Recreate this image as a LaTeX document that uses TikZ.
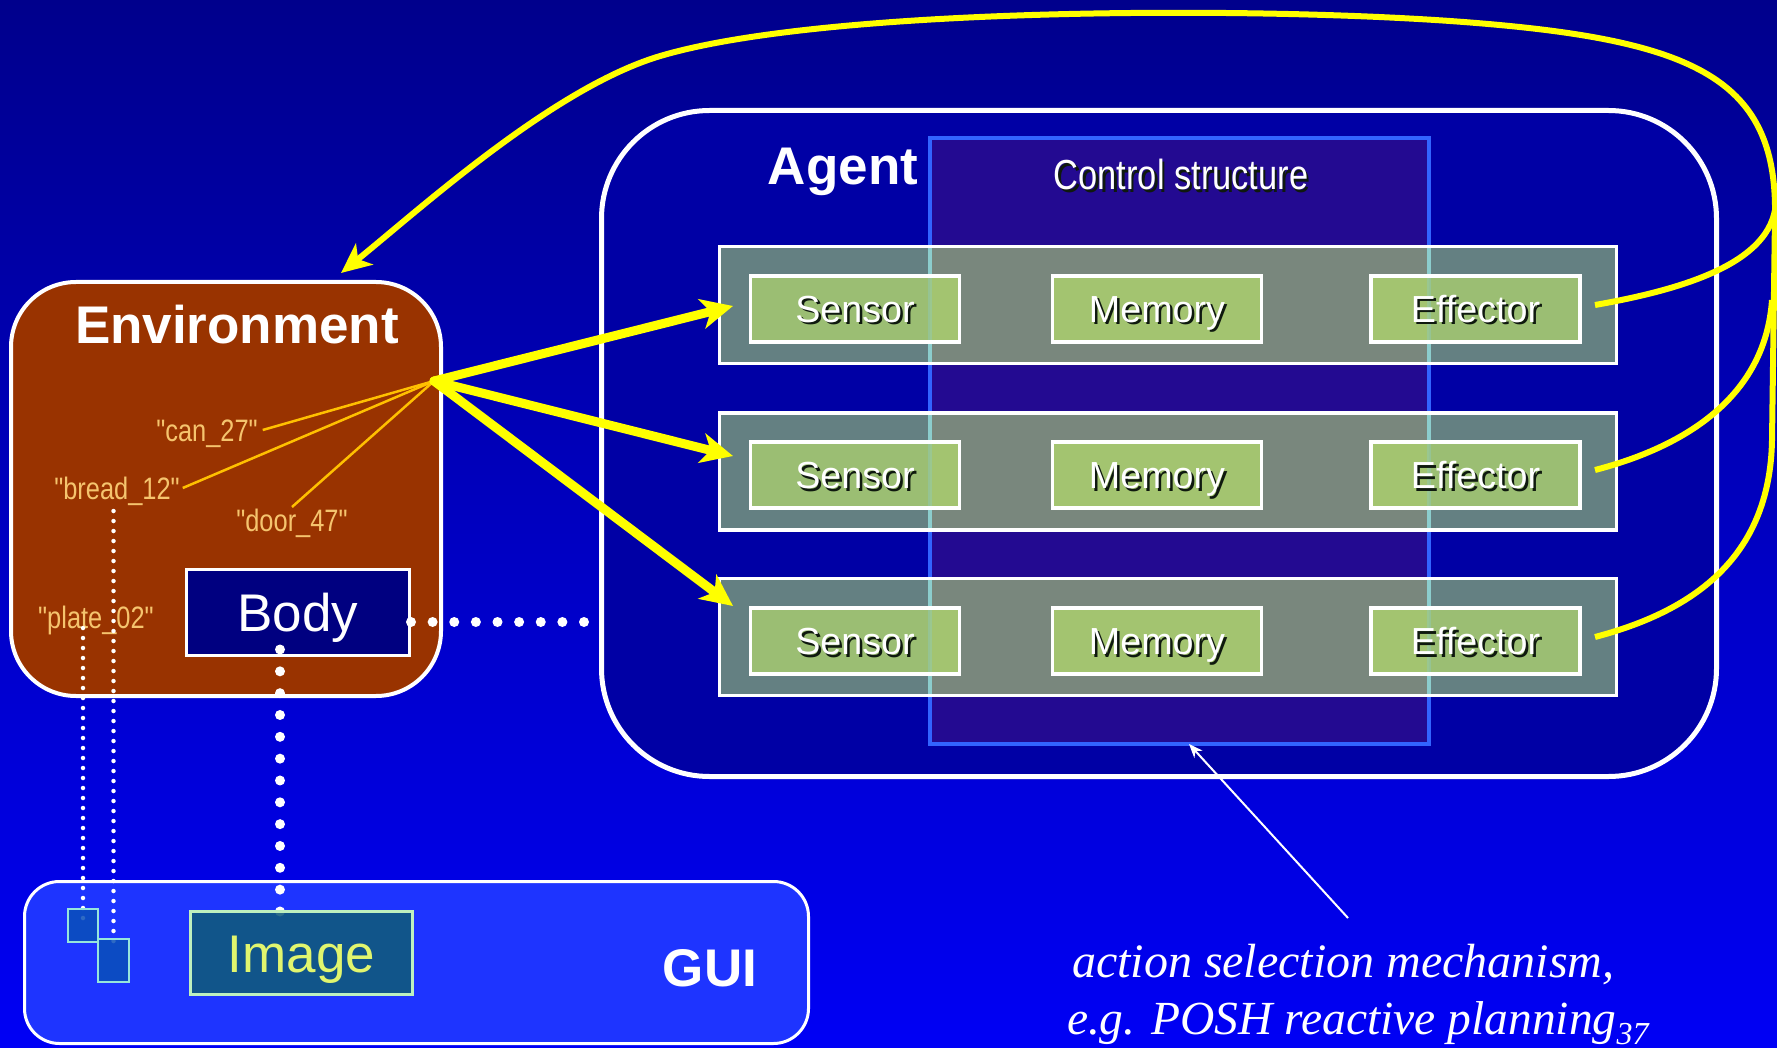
\documentclass[tikz,border=0pt]{standalone}
\usepackage{fontspec}
\setmainfont{Liberation Sans}
\newfontfamily\narrowfont{Liberation Sans}[FakeStretch=0.82]
\newfontfamily\timesfont{Liberation Serif}
\usetikzlibrary{arrows.meta}
\definecolor{bgtop}{RGB}{0,0,140}
\definecolor{bgbot}{RGB}{0,0,245}
\definecolor{agentc}{RGB}{0,0,165}
\definecolor{ctrlc}{RGB}{35,10,145}
\definecolor{ctrlborder}{RGB}{50,100,255}
\definecolor{rowc}{RGB}{100,128,130}
\definecolor{rowin}{RGB}{121,135,125}
\definecolor{cyanl}{RGB}{140,205,205}
\definecolor{greenc}{RGB}{155,190,115}
\definecolor{greenin}{RGB}{163,196,112}
\definecolor{envc}{RGB}{153,51,0}
\definecolor{labelc}{RGB}{245,196,110}
\definecolor{orangel}{RGB}{255,192,0}
\definecolor{bodyc}{RGB}{0,0,128}
\definecolor{guic}{RGB}{30,52,255}
\definecolor{imgc}{RGB}{16,90,122}
\definecolor{imgborder}{RGB}{190,240,190}
\definecolor{imgtext}{RGB}{225,245,110}
\definecolor{sqc}{RGB}{10,80,185}
\definecolor{sqborder}{RGB}{150,230,220}
\definecolor{yellowc}{RGB}{255,255,0}
\definecolor{textshadow}{RGB}{15,25,15}
\newcommand\shadowtext[1]{\leavevmode\rlap{\kern2.5pt\raisebox{-2.5pt}{\color{textshadow}#1}}#1}
\newcommand\fsz[1]{\fontsize{#1}{#1}\selectfont}
\begin{document}
\begin{tikzpicture}[x=1pt,y=-1pt,
  plain/.style={inner sep=0pt,outer sep=0pt},
  capht/.style={text height=#1,text depth=0pt},
  rowbox/.style={plain,draw=white,line width=3.5pt,fill=rowc,minimum width=897pt,minimum height=117pt,
    path picture={\fill[rowin] (ctrl.north west) rectangle (ctrl.south east);
      \draw[cyanl,line width=4pt] (ctrl.north west) -- (ctrl.south west) (ctrl.north east) -- (ctrl.south east);}},
  greenbox/.style={plain,draw=white,line width=3.5pt,fill=greenc,minimum width=209pt,minimum height=66pt,
    text=white,font=\fsz{37.7},capht=27pt,
    path picture={\fill[greenin] (ctrl.north west) rectangle (ctrl.south east);
      \draw[cyanl,line width=4pt,opacity=0.35] (ctrl.north west) -- (ctrl.south west) (ctrl.north east) -- (ctrl.south east);}},
  envlabel/.style={plain,font=\narrowfont\fsz{31},text=labelc,capht=22pt},
  orline/.style={draw=orangel,line width=2.5pt},
  yarrow/.style={draw=yellowc,line width=9pt,line cap=round,-{Stealth[length=32pt,width=30pt,inset=9pt]}},
  yline/.style={draw=yellowc,line width=6pt},
  smalldots/.style={draw=white,line width=4.5pt,line cap=round,dash pattern=on 0pt off 10pt},
  bigdots/.style={draw=white,line width=10pt,line cap=round,dash pattern=on 0pt off 21.7pt},
  sqbox/.style={plain,draw=sqborder,line width=2.5pt,fill=sqc,fill opacity=0.85}
]
\useasboundingbox (0,0) rectangle (1777,1048);
\shade[top color=bgtop,bottom color=bgbot] (0,0) rectangle (1777,1048);

% Agent
\node[plain,draw=white,line width=5pt,fill=agentc,rounded corners=108pt,minimum width=1115pt,minimum height=666pt] (agent) at (1159,443.5) {};
\node[plain,draw=ctrlborder,line width=4pt,fill=ctrlc,minimum width=499pt,minimum height=606pt] (ctrl) at (1179.5,441) {};
\node[plain,font=\bfseries\fsz{53},text=white,capht=38pt] (agentlbl) at (843,166) {Agent};
\node[plain,font=\narrowfont\fsz{42},text=white,capht=30pt] (ctrllbl) at (1181,175) {\shadowtext{Control structure}};

\node[rowbox] (r1) at (1168,305) {};
\node[rowbox] (r2) at (1168,471.5) {};
\node[rowbox] (r3) at (1168,637) {};

\node[greenbox] (s1) at (855,309) {\shadowtext{Sensor}};
\node[greenbox] (m1) at (1157,309) {\shadowtext{Memory}};
\node[greenbox] (e1) at (1475.5,309) {\shadowtext{Effector}};
\node[greenbox] (s2) at (855,475) {\shadowtext{Sensor}};
\node[greenbox] (m2) at (1157,475) {\shadowtext{Memory}};
\node[greenbox] (e2) at (1475.5,475) {\shadowtext{Effector}};
\node[greenbox] (s3) at (855,641) {\shadowtext{Sensor}};
\node[greenbox] (m3) at (1157,641) {\shadowtext{Memory}};
\node[greenbox] (e3) at (1475.5,641) {\shadowtext{Effector}};

% Environment
\node[plain,draw=white,line width=4pt,fill=envc,rounded corners=65pt,minimum width=430pt,minimum height=414pt] (env) at (226,489) {};
\node[plain,font=\bfseries\fsz{53},text=white,capht=38pt] (envlbl) at (237,325) {Environment};
\node[envlabel] (can) at (207,430) {"can\_27"};
\node[envlabel] (bread) at (117,488) {"bread\_12"};
\node[envlabel] (door) at (292,520) {"door\_47"};
\node[envlabel] (plate) at (96,617) {"plate\_02"};
\coordinate (hub) at (434,381);
\draw[orline] (hub) -- ([xshift=5pt]can.east);
\draw[orline] (hub) -- ([xshift=3pt]bread.east);
\draw[orline] (hub) -- ([yshift=2pt]door.north);
\node[plain,draw=white,line width=3pt,fill=bodyc,minimum width=223pt,minimum height=86pt,font=\fsz{53},text=white,capht=38pt] (body) at (298,612.5) {Body};

% GUI
\node[plain,draw=white,line width=3pt,fill=guic,rounded corners=35pt,minimum width=784pt,minimum height=162pt] (gui) at (416.5,962.5) {};
\node[plain,font=\bfseries\fsz{53},text=white,capht=38pt] (guilbl) at (710,967.5) {GUI};

% dotted links
\coordinate (sq1c) at (83,925.5);
\coordinate (sq2c) at (113.5,960.5);
\draw[smalldots] (sq1c |- plate.south) -- ([yshift=6pt]sq1c);
\draw[smalldots] ([yshift=-12pt]sq2c |- bread.south) -- ([yshift=12pt]sq2c);
\draw[bigdots,dash pattern=on 0pt off 21.83pt] ([xshift=-18pt,yshift=6pt]body.south) coordinate (bdv) -- (bdv |- 0,913);
\draw[bigdots,dash pattern=on 0pt off 21.625pt] ([xshift=1.5pt,yshift=-9.5pt]body.east) coordinate (bdh) -- ([xshift=-14pt]bdh -| agent.west);

\node[sqbox,minimum width=30pt,minimum height=33pt] (sq1) at (sq1c) {};
\node[sqbox,minimum width=31pt,minimum height=43pt] (sq2) at (sq2c) {};
\node[plain,draw=imgborder,line width=3pt,fill=imgc,fill opacity=0.88,text opacity=1,minimum width=222pt,minimum height=83pt,font=\fsz{53},text=imgtext,capht=38pt] (image) at (301.5,953) {Image};

% yellow arrows to sensors
\coordinate (in1) at (733,306);
\coordinate (in2) at (733,456);
\coordinate (in3) at (733,606);
\draw[yarrow] (hub) -- (in1);
\draw[yarrow] (hub) -- (in2);
\draw[yarrow] (hub) -- (in3);

% effector feedback to environment
\coordinate (j1) at (1775,210);
\coordinate (j2) at (1772,300);
\coordinate (j3) at (1772,440);
\coordinate (envtip) at (341,273);
\draw[yline] ([xshift=15pt,yshift=4pt]e1.east) .. controls (1680,290) and (1765,265) .. (j1);
\draw[yline] ([xshift=15pt,yshift=5pt]e2.east) .. controls (1680,448) and (1765,400) .. (j2);
\draw[yline] ([xshift=15pt,yshift=4pt]e3.east) .. controls (1690,612) and (1770,560) .. (j3);
\draw[yline,-{Stealth[length=30pt,width=27pt,inset=8pt]}] (j3) -- (1775,215)
  .. controls (1777,75) and (1690,38) .. (1450,21)
  .. controls (1234,6) and (816,8) .. (657,57)
  .. controls (551,90) and (420,209) .. (envtip);

% annotation
\node[plain,anchor=base west,font=\timesfont\itshape\fsz{48},text=white] (asm1) at (1072,977) {action selection mechanism,};
\node[plain,anchor=base west,font=\timesfont\itshape\fsz{47.5},text=white] (asm2) at (1067,1034) {e.g. POSH reactive planning\raisebox{-10pt}{\fsz{32}37}};
\coordinate (notetail) at (1348,918);
\draw[white,line width=2pt,-{Stealth[length=14pt,width=11pt]}] (notetail) -- ([xshift=9.5pt]ctrl.south);
\end{tikzpicture}
\end{document}
